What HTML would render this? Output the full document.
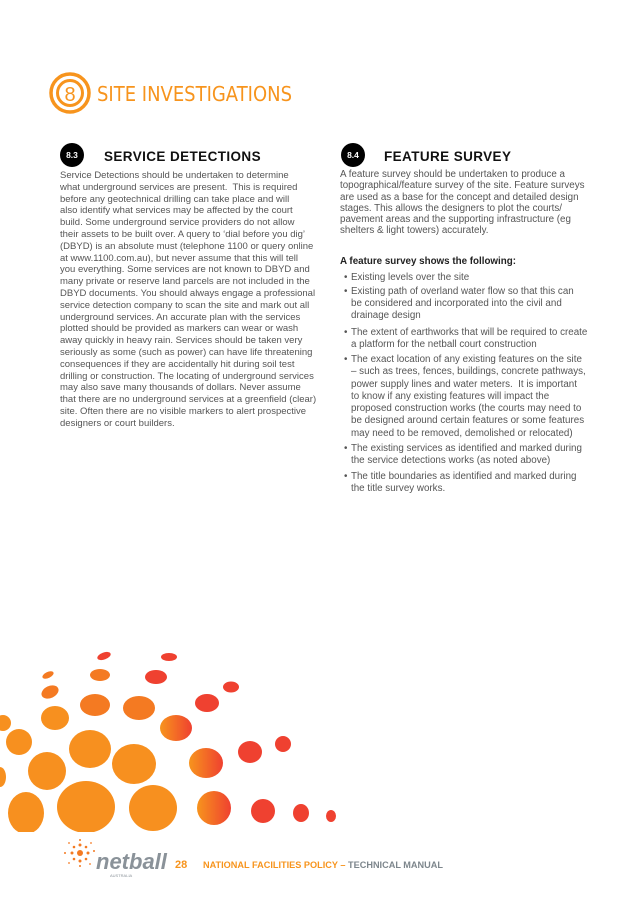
<!DOCTYPE html>
<html><head><meta charset="utf-8"><style>
body{margin:0;width:637px;height:901px;background:#fff;position:relative;overflow:hidden;font-family:"Liberation Sans",Arial,sans-serif;}
.l{position:absolute;font-size:9.5px;line-height:12px;color:#555;white-space:nowrap;}
.r{font-size:9.8px;}
h2{position:absolute;margin:0;font-family:"Liberation Sans",sans-serif;font-weight:bold;font-size:13.5px;color:#111;letter-spacing:0.4px;line-height:18px;white-space:nowrap;}
.badge{position:absolute;width:24px;height:24px;border-radius:50%;background:#000;color:#fff;font-size:8.5px;font-weight:bold;text-align:center;line-height:24px;}
</style></head><body>
<svg width="637" height="901" style="position:absolute;left:0;top:0">
<circle cx="70" cy="93" r="19" fill="none" stroke="#f7941d" stroke-width="3.5"/>
<circle cx="70" cy="93" r="12.5" fill="none" stroke="#f7941d" stroke-width="3"/>
<text x="70" y="101" font-family="Liberation Sans" font-size="20" fill="#f7941d" text-anchor="middle">8</text>
<text x="97" y="101" font-family="DejaVu Sans" font-size="20" fill="#f7941d" textLength="195" lengthAdjust="spacingAndGlyphs">SITE INVESTIGATIONS</text>
<defs><clipPath id="c"><rect x="0" y="0" width="637" height="832"/></clipPath>
<linearGradient id="g" x1="0" x2="1"><stop offset="0" stop-color="#f7941d"/><stop offset="1" stop-color="#ef4130"/></linearGradient></defs>
<g clip-path="url(#c)">
<g fill="#ef4130">
<ellipse cx="104" cy="656" rx="7" ry="3.5" transform="rotate(-20 104 656)"/>
<ellipse cx="169" cy="657" rx="8" ry="4"/>
<ellipse cx="156" cy="677" rx="11" ry="7"/>
<ellipse cx="231" cy="687" rx="8" ry="5.5"/>
<ellipse cx="207" cy="703" rx="12" ry="9"/>
<ellipse cx="283" cy="744" rx="8" ry="8"/>
<ellipse cx="250" cy="752" rx="12" ry="11"/>
<ellipse cx="263" cy="811" rx="12" ry="12"/>
<ellipse cx="301" cy="813" rx="8" ry="9"/>
<ellipse cx="331" cy="816" rx="5" ry="6"/>
</g>
<g fill="#f47a22">
<ellipse cx="48" cy="675" rx="6" ry="3" transform="rotate(-25 48 675)"/>
<ellipse cx="100" cy="675" rx="10" ry="6"/>
<ellipse cx="50" cy="692" rx="9" ry="6" transform="rotate(-25 50 692)"/>
<ellipse cx="95" cy="705" rx="15" ry="11"/>
<ellipse cx="139" cy="708" rx="16" ry="12"/>
</g>
<g fill="#f7901f">
<ellipse cx="55" cy="718" rx="14" ry="12"/>
<ellipse cx="3" cy="723" rx="8" ry="8"/>
<ellipse cx="19" cy="742" rx="13" ry="13"/>
<ellipse cx="90" cy="749" rx="21" ry="19"/>
<ellipse cx="134" cy="764" rx="22" ry="20"/>
<ellipse cx="47" cy="771" rx="19" ry="19"/>
<ellipse cx="0" cy="777" rx="6" ry="10"/>
<ellipse cx="26" cy="813" rx="18" ry="21"/>
<ellipse cx="86" cy="807" rx="29" ry="26"/>
<ellipse cx="153" cy="808" rx="24" ry="23"/>
</g>
<ellipse cx="176" cy="728" rx="16" ry="13" fill="url(#g)"/>
<ellipse cx="206" cy="763" rx="17" ry="15" fill="url(#g)"/>
<ellipse cx="214" cy="808" rx="17" ry="17" fill="url(#g)"/>
</g>
<g fill="#f47a22">
<circle cx="80" cy="853" r="3"/><circle cx="72" cy="853" r="1.5"/><circle cx="88" cy="853" r="1.5"/><circle cx="80" cy="845" r="1.5"/><circle cx="80" cy="861" r="1.5"/>
<circle cx="74" cy="847" r="1.3"/><circle cx="86" cy="847" r="1.3"/><circle cx="74" cy="859" r="1.3"/><circle cx="86" cy="859" r="1.3"/>
<circle cx="65" cy="853" r="1"/><circle cx="94" cy="851" r="1"/><circle cx="80" cy="840" r="1"/><circle cx="80" cy="866" r="1"/>
<circle cx="69" cy="843" r="0.9"/><circle cx="91" cy="843" r="0.9"/><circle cx="69" cy="863" r="0.9"/><circle cx="90" cy="864" r="0.9"/>
</g>
<text x="96" y="869" font-family="Liberation Sans" font-style="italic" font-weight="bold" font-size="22" fill="#8a9299">netball</text>
<text x="110" y="877" font-family="Liberation Sans" font-size="4" fill="#8a9299">AUSTRALIA</text>
<text x="175" y="868" font-family="Liberation Sans" font-weight="bold" font-size="11" fill="#f7941d">28</text>
<text x="203" y="868" font-family="Liberation Sans" font-weight="bold" font-size="9.5" fill="#f7941d" textLength="240" lengthAdjust="spacingAndGlyphs">NATIONAL FACILITIES POLICY – <tspan fill="#7d868c">TECHNICAL MANUAL</tspan></text>
</svg>

<div class="badge" style="left:60px;top:143px">8.3</div>
<h2 style="left:104px;top:148px">SERVICE DETECTIONS</h2>
<div class="badge" style="left:341px;top:143px">8.4</div>
<h2 style="left:384px;top:148px">FEATURE SURVEY</h2>

<div class="l" style="left:60px;top:170px;line-height:11.8px">Service Detections should be undertaken to determine<br>what underground services are present.&nbsp; This is required<br>before any geotechnical drilling can take place and will<br>also identify what services may be affected by the court<br>build. Some underground service providers do not allow<br>their assets to be built over. A query to ‘dial before you dig’<br>(DBYD) is an absolute must (telephone 1100 or query online<br>at www.1100.com.au), but never assume that this will tell<br>you everything. Some services are not known to DBYD and<br>many private or reserve land parcels are not included in the<br>DBYD documents. You should always engage a professional<br>service detection company to scan the site and mark out all<br>underground services. An accurate plan with the services<br>plotted should be provided as markers can wear or wash<br>away quickly in heavy rain. Services should be taken very<br>seriously as some (such as power) can have life threatening<br>consequences if they are accidentally hit during soil test<br>drilling or construction. The locating of underground services<br>may also save many thousands of dollars. Never assume<br>that there are no underground services at a greenfield (clear)<br>site. Often there are no visible markers to alert prospective<br>designers or court builders.</div>

<div class="l r" style="left:340px;top:169px;line-height:11.3px">A feature survey should be undertaken to produce a<br>topographical/feature survey of the site. Feature surveys<br>are used as a base for the concept and detailed design<br>stages. This allows the designers to plot the courts/<br>pavement areas and the supporting infrastructure (eg<br>shelters &amp; light towers) accurately.</div>
<div class="l r" style="left:340px;top:256px;font-weight:bold;color:#222">A feature survey shows the following:</div>

<div class="l r" style="left:344px;top:272px">•</div><div class="l r" style="left:351px;top:272px">Existing levels over the site</div>
<div class="l r" style="left:344px;top:286px">•</div><div class="l r" style="left:351px;top:286px">Existing path of overland water flow so that this can<br>be considered and incorporated into the civil and<br>drainage design</div>
<div class="l r" style="left:344px;top:327px">•</div><div class="l r" style="left:351px;top:327px">The extent of earthworks that will be required to create<br>a platform for the netball court construction</div>
<div class="l r" style="left:344px;top:354px">•</div><div class="l r" style="left:351px;top:354px;line-height:12.3px">The exact location of any existing features on the site<br>– such as trees, fences, buildings, concrete pathways,<br>power supply lines and water meters.&nbsp; It is important<br>to know if any existing features will impact the<br>proposed construction works (the courts may need to<br>be designed around certain features or some features<br>may need to be removed, demolished or relocated)</div>
<div class="l r" style="left:344px;top:443px">•</div><div class="l r" style="left:351px;top:443px">The existing services as identified and marked during<br>the service detections works (as noted above)</div>
<div class="l r" style="left:344px;top:471px">•</div><div class="l r" style="left:351px;top:471px">The title boundaries as identified and marked during<br>the title survey works.</div>
</body></html>
